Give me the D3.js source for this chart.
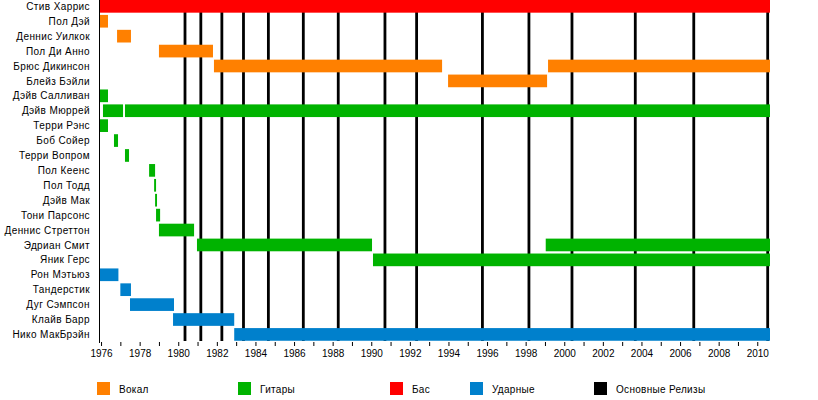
<!DOCTYPE html>
<html>
<head>
<meta charset="utf-8">
<script src="https://cdn.jsdelivr.net/npm/d3@7"></script>
<style>
body { margin:0; background:#fff; }
text { font-family: "Liberation Sans", Arial, sans-serif; }
</style>
</head>
<body>
<script>
// участники, сверху вниз
var members = ["Стив Харрис","Пол Дэй","Деннис Уилкок","Пол Ди Анно","Брюс Дикинсон","Блейз Бэйли",
  "Дэйв Салливан","Дэйв Мюррей","Терри Рэнс","Боб Сойер","Терри Вопром","Пол Кеенс","Пол Тодд",
  "Дэйв Мак","Тони Парсонс","Деннис Стреттон","Эдриан Смит","Яник Герс","Рон Мэтьюз","Тандерстик",
  "Дуг Сэмпсон","Клайв Барр","Нико МакБрэйн"];

var roles = ["Вокал","Гитары","Бас","Ударные","Основные Релизы"];
var roleColors = ["rgb(255,128,0)","rgb(0,179,0)","rgb(255,0,0)","rgb(0,128,204)","#000"];

var startDate = 1975.92, endDate = 2010.66;

// [участник, роль, начало, конец]
var periods = [
  ["Стив Харрис", 2, 1975.92, endDate],
  ["Пол Дэй", 0, 1975.92, 1976.36],
  ["Деннис Уилкок", 0, 1976.83, 1977.55],
  ["Пол Ди Анно", 0, 1979.0, 1981.8],
  ["Брюс Дикинсон", 0, 1981.85, 1993.67],
  ["Брюс Дикинсон", 0, 1999.16, endDate],
  ["Блейз Бэйли", 0, 1993.98, 1999.11],
  ["Дэйв Салливан", 1, 1975.92, 1976.36],
  ["Дэйв Мюррей", 1, 1976.1, 1977.14],
  ["Дэйв Мюррей", 1, 1977.24, endDate],
  ["Терри Рэнс", 1, 1975.92, 1976.36],
  ["Боб Сойер", 1, 1976.67, 1976.88],
  ["Терри Вопром", 1, 1977.24, 1977.45],
  ["Пол Кеенс", 1, 1978.49, 1978.8],
  ["Пол Тодд", 1, 1978.75, 1978.85],
  ["Дэйв Мак", 1, 1978.8, 1978.9],
  ["Тони Парсонс", 1, 1978.85, 1979.06],
  ["Деннис Стреттон", 1, 1979.0, 1980.82],
  ["Эдриан Смит", 1, 1980.97, 1990.04],
  ["Эдриан Смит", 1, 1999.04, endDate],
  ["Яник Герс", 1, 1990.09, endDate],
  ["Рон Мэтьюз", 3, 1975.92, 1976.9],
  ["Тандерстик", 3, 1977.0, 1977.55],
  ["Дуг Сэмпсон", 3, 1977.5, 1979.78],
  ["Клайв Барр", 3, 1979.73, 1982.9],
  ["Нико МакБрэйн", 3, 1982.9, endDate]
];

// основные релизы
var releases = [1980.35, 1981.17, 1982.26, 1983.38, 1984.67, 1986.48, 1988.29, 1990.71,
  1992.35, 1995.76, 1998.17, 2000.4, 2003.68, 2006.71, 2010.54];

var tickYears = d3.range(1976, 2011);

var svg = d3.select("body").append("svg").attr("width", 818).attr("height", 400);

var x = d3.scaleLinear().domain([startDate, endDate]).range([99.5, 770]);
var y = d3.scaleBand().domain(members).range([0, 343]);
var barH = y.bandwidth() * 0.85;

// релизы (под полосами)
svg.append("g").selectAll("rect")
  .data(releases).enter().append("rect")
  .attr("x", function(d) { return x(d) - 1.4; })
  .attr("y", 0)
  .attr("width", 2.8)
  .attr("height", 341);

svg.append("g").selectAll("rect")
  .data(periods).enter().append("rect")
  .attr("x", function(d) { return x(d[2]); })
  .attr("y", function(d) { return y(d[0]); })
  .attr("width", function(d) { return x(d[3]) - x(d[2]); })
  .attr("height", barH)
  .attr("fill", function(d) { return roleColors[d[1]]; });

svg.append("line").attr("x1", 99.5).attr("x2", 99.5).attr("y1", 0).attr("y2", 343)
  .attr("stroke", "#000").attr("stroke-width", 1);

svg.append("g").selectAll("text")
  .data(members).enter().append("text")
  .attr("x", 90)
  .attr("y", function(d) { return y(d) + barH / 2 + 3.6; })
  .attr("text-anchor", "end")
  .attr("font-size", "10px")
  .attr("letter-spacing", "0.4px")
  .text(function(d) { return d; });

var axis = d3.axisBottom(x)
  .tickValues(tickYears)
  .tickSize(4)
  .tickPadding(4)
  .tickFormat(function(d) { return d % 2 == 0 ? d : ""; });

var ax = svg.append("g").attr("transform", "translate(0,342)").call(axis);
ax.select(".domain").remove();
ax.selectAll("text").attr("font-size", "10px").attr("font-family", "'Liberation Sans', Arial, sans-serif");

// легенда
var legendX = [97, 238, 390, 470, 594];
var legend = svg.append("g").selectAll("g")
  .data(roles).enter().append("g")
  .attr("transform", function(d, i) { return "translate(" + legendX[i] + ",382)"; });
legend.append("rect").attr("width", 13).attr("height", 13)
  .attr("fill", function(d, i) { return roleColors[i]; });
legend.append("text").attr("x", 22).attr("y", 11).attr("font-size", "10px")
  .attr("letter-spacing", "0.3px").text(function(d) { return d; });
</script>
</body>
</html>
